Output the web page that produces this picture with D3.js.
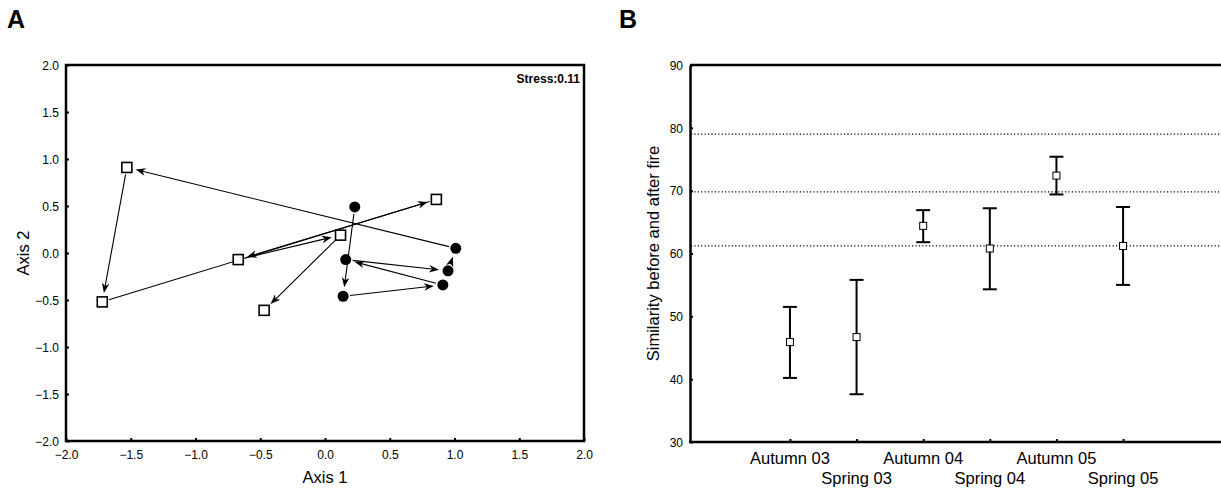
<!DOCTYPE html>
<html>
<head>
<meta charset="utf-8">
<script src="https://cdn.jsdelivr.net/npm/d3@7"></script>
<style>
  html, body { margin: 0; padding: 0; background: #fff; }
  svg { display: block; font-family: "Liberation Sans", Arial, sans-serif; }
</style>
</head>
<body>
<svg id="chart" width="1221" height="489"></svg>
<script>
// ---------- Panel A data (NMDS trajectory, in temporal order) ----------
const ordX = [0.23, 0.14, 0.91, 0.16, 0.95, 1.01, -1.53, -1.72, 0.86, -0.67, 0.12, -0.47];
const ordY = [0.49, -0.46, -0.34, -0.07, -0.19, 0.05, 0.91, -0.52, 0.57, -0.07, 0.19, -0.61];
const ordGroup = ["before","before","before","before","before","before",
                  "after","after","after","after","after","after"];
const axisTicksA = [-2.0, -1.5, -1.0, -0.5, 0.0, 0.5, 1.0, 1.5, 2.0];
const stressText = "Stress:0.11";

// ---------- Panel B data ----------
const seasons = ["Autumn 03", "Spring 03", "Autumn 04", "Spring 04", "Autumn 05", "Spring 05"];
const simMean = [45.9, 46.7, 64.4, 60.8, 72.4, 61.2];
const simUpper = [51.5, 55.8, 66.9, 67.2, 75.4, 67.4];
const simLower = [40.2, 37.6, 61.8, 54.3, 69.4, 55.0];
const refLines = [79.0, 69.8, 61.2];
const yTicksB = [30, 40, 50, 60, 70, 80, 90];

const svg = d3.select("#chart");

// ============ PANEL A ============
const xA = d3.scaleLinear().domain([-2, 2]).range([66, 584]);
const yA = d3.scaleLinear().domain([-2, 2]).range([441, 65]);
const gA = svg.append("g");

svg.append("text").attr("x", 7).attr("y", 28).attr("font-size", 25)
  .attr("font-weight", "bold").text("A");

// frame
gA.append("rect").attr("x", xA(-2)).attr("y", yA(2))
  .attr("width", xA(2) - xA(-2)).attr("height", yA(-2) - yA(2))
  .attr("fill", "none").attr("stroke", "#000").attr("stroke-width", 2.5);

// axes
const fmt1 = d3.format(".1f");
const axXA = gA.append("g").attr("transform", `translate(0,${yA(-2)})`)
  .call(d3.axisBottom(xA).tickValues(axisTicksA).tickFormat(fmt1).tickSizeInner(-3).tickSizeOuter(0).tickPadding(9));
const axYA = gA.append("g").attr("transform", `translate(${xA(-2)},0)`)
  .call(d3.axisLeft(yA).tickValues(axisTicksA).tickFormat(fmt1).tickSizeInner(-3).tickSizeOuter(0).tickPadding(7));
[axXA, axYA].forEach(a => {
  a.select(".domain").remove();
  a.selectAll(".tick line").attr("stroke", "#000").attr("stroke-width", 2);
  a.selectAll(".tick text").attr("font-size", 12).attr("fill", "#000")
    .attr("font-family", "Liberation Sans, Arial, sans-serif");
});
axYA.selectAll(".tick text").attr("dy", "0.35em");

gA.append("text").attr("x", (xA(-2) + xA(2)) / 2).attr("y", 483)
  .attr("text-anchor", "middle").attr("font-size", 16.5).text("Axis 1");
gA.append("text").attr("transform", `translate(29,${(yA(2) + yA(-2)) / 2}) rotate(-90)`)
  .attr("text-anchor", "middle").attr("font-size", 16.5).text("Axis 2");

gA.append("text").attr("x", 580).attr("y", 83).attr("text-anchor", "end")
  .attr("font-size", 12).attr("font-weight", "bold").text(stressText);

// arrows
const pts = ordX.map((x, i) => ({ x: xA(x), y: yA(ordY[i]), g: ordGroup[i] }));
const segs = d3.pairs(pts);
segs.forEach(([a, b]) => {
  const dx = b.x - a.x, dy = b.y - a.y, L = Math.hypot(dx, dy);
  const ux = dx / L, uy = dy / L;
  const s0 = 7, e0 = 9;
  const x1 = a.x + ux * s0, y1 = a.y + uy * s0;
  const x2 = b.x - ux * e0, y2 = b.y - uy * e0;
  gA.append("line").attr("x1", x1).attr("y1", y1).attr("x2", x2 - ux * 5).attr("y2", y2 - uy * 5)
    .attr("stroke", "#000").attr("stroke-width", 1.1);
  const ang = Math.atan2(uy, ux) * 180 / Math.PI;
  gA.append("path").attr("d", "M0,0 L-10,-3.8 L-7,0 L-10,3.8 Z")
    .attr("transform", `translate(${x2},${y2}) rotate(${ang})`).attr("fill", "#000");
});

// markers
gA.selectAll("rect.sq").data(pts.filter(p => p.g === "after")).join("rect")
  .attr("class", "sq").attr("x", d => d.x - 5).attr("y", d => d.y - 5)
  .attr("width", 10).attr("height", 10).attr("fill", "#fff").attr("stroke", "#000").attr("stroke-width", 1.6);
gA.selectAll("circle.ci").data(pts.filter(p => p.g === "before")).join("circle")
  .attr("class", "ci").attr("cx", d => d.x).attr("cy", d => d.y).attr("r", 5.5).attr("fill", "#000");

// ============ PANEL B ============
const xB = d3.scalePoint().domain(seasons).range([690, 1223]).padding(1.5);
const yB = d3.scaleLinear().domain([30, 90]).range([442, 65]);
const gB = svg.append("g");

svg.append("text").attr("x", 619).attr("y", 28).attr("font-size", 25)
  .attr("font-weight", "bold").text("B");

// reference dotted lines
gB.selectAll("line.ref").data(refLines).join("line").attr("class", "ref")
  .attr("x1", 691).attr("x2", 1221).attr("y1", d => yB(d)).attr("y2", d => yB(d))
  .attr("stroke", "#000").attr("stroke-width", 1.2).attr("stroke-dasharray", "1.2,2.2");

// axes frame lines
gB.append("line").attr("x1", 690).attr("x2", 1221).attr("y1", yB(90)).attr("y2", yB(90))
  .attr("stroke", "#000").attr("stroke-width", 2.5);
const axYB = gB.append("g").attr("transform", "translate(690,0)")
  .call(d3.axisLeft(yB).tickValues(yTicksB).tickSizeInner(-3).tickSizeOuter(0).tickPadding(7));
axYB.select(".domain").attr("stroke-width", 2.5);
axYB.selectAll(".tick line").attr("stroke-width", 2);
axYB.selectAll(".tick text").attr("font-size", 12).attr("fill", "#000")
  .attr("font-family", "Liberation Sans, Arial, sans-serif").attr("dy", "0.35em");

const axXB = gB.append("g").attr("transform", `translate(0,${yB(30)})`)
  .call(d3.axisBottom(xB).tickSizeInner(-3).tickSizeOuter(0).tickFormat(""));
axXB.select(".domain").remove();
gB.append("line").attr("x1", 689).attr("x2", 1221).attr("y1", yB(30)).attr("y2", yB(30))
  .attr("stroke", "#000").attr("stroke-width", 2.5);
axXB.selectAll(".tick line").attr("stroke-width", 2);

// category labels in two rows
gB.selectAll("text.cat").data(seasons).join("text").attr("class", "cat")
  .attr("x", d => xB(d)).attr("y", (d, i) => i % 2 === 0 ? 464 : 484)
  .attr("text-anchor", "middle").attr("font-size", 16.5).text(d => d);

gB.append("text").attr("transform", `translate(659,${(yB(30) + yB(90)) / 2}) rotate(-90)`)
  .attr("text-anchor", "middle").attr("font-size", 16.5).text("Similarity before and after fire");

// error bars
const eb = gB.selectAll("g.eb").data(seasons).join("g").attr("class", "eb");
eb.append("line").attr("x1", d => xB(d)).attr("x2", d => xB(d))
  .attr("y1", (d, i) => yB(simUpper[i])).attr("y2", (d, i) => yB(simLower[i]))
  .attr("stroke", "#000").attr("stroke-width", 2);
eb.append("line").attr("x1", d => xB(d) - 7).attr("x2", d => xB(d) + 7)
  .attr("y1", (d, i) => yB(simUpper[i])).attr("y2", (d, i) => yB(simUpper[i]))
  .attr("stroke", "#000").attr("stroke-width", 2);
eb.append("line").attr("x1", d => xB(d) - 7).attr("x2", d => xB(d) + 7)
  .attr("y1", (d, i) => yB(simLower[i])).attr("y2", (d, i) => yB(simLower[i]))
  .attr("stroke", "#000").attr("stroke-width", 2);
eb.append("rect").attr("x", d => xB(d) - 3.5).attr("y", (d, i) => yB(simMean[i]) - 3.5)
  .attr("width", 7).attr("height", 7).attr("fill", "#fff").attr("stroke", "#000").attr("stroke-width", 1);
</script>
</body>
</html>
